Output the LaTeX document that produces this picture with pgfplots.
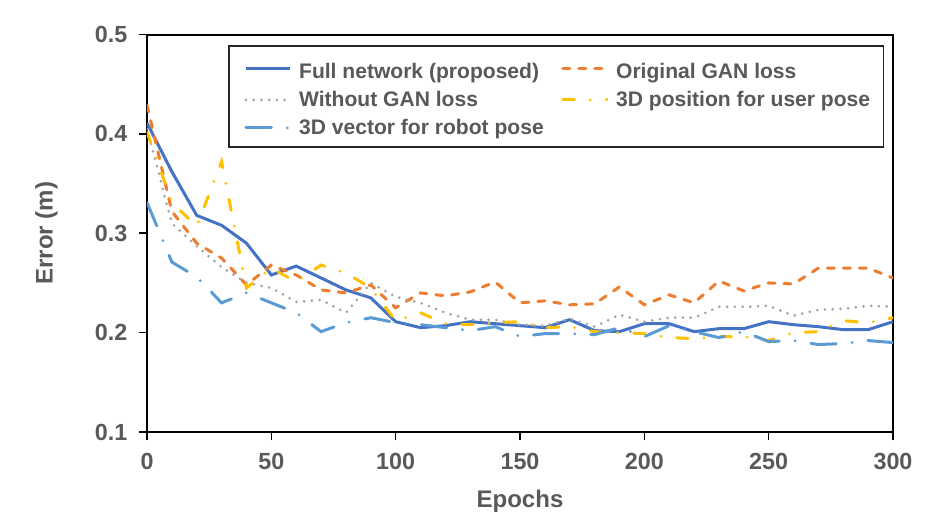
\documentclass[border=0pt]{standalone}
\usepackage{fontspec}
\setmainfont{Liberation Sans}
\usepackage{pgfplots}
\pgfplotsset{compat=1.18}
\definecolor{cBlue}{HTML}{4472C4}
\definecolor{cOrange}{HTML}{ED7D31}
\definecolor{cGray}{HTML}{A5A5A5}
\definecolor{cYellow}{HTML}{FFC000}
\definecolor{cLBlue}{HTML}{5B9BD5}
\definecolor{tgray}{HTML}{595959}
\begin{document}
\begin{tikzpicture}
\path[use as bounding box] (-110.25pt,-69.75pt) rectangle (593.25pt,324pt);
\begin{axis}[
  scale only axis, width=559.5pt, height=298.1pt,
  xmin=0, xmax=300, ymin=0.1, ymax=0.5,
  xtick={0,50,...,300}, ytick={0.1,0.2,0.3,0.4,0.5},
  axis line style={line width=1.5pt, black},
  tick style={line width=1.2pt, black}, major tick length=6pt, tick align=outside,
  xtick pos=bottom, ytick pos=left,
  /pgf/number format/assume math mode=true,
  ticklabel style={font=\fontsize{17.5}{20}\selectfont\bfseries, text=tgray},
  yticklabel style={/pgf/number format/.cd, fixed, fixed zerofill, precision=1, /tikz/.cd, xshift=-5.25pt},
  xticklabel style={yshift=-6pt},
  xlabel={Epochs}, ylabel={Error (m)},
  label style={font=\fontsize{18}{21}\selectfont\bfseries, text=tgray},
  xlabel style={at={(axis description cs:0.5,-0.1736)}, anchor=center},
  ylabel style={at={(axis description cs:-0.1347,0.5)}, anchor=center},
  legend columns=2,
  legend cell align=left,
  legend image code/.code={\path (0pt,0pt) (40.5pt,0pt); \draw[#1] (3.75pt,0pt) -- (36.75pt,0pt);},
  legend style={at={(0.1086,0.9736)}, anchor=north west, draw=black!85, line width=1.2pt,
    font=\fontsize{15.8}{18}\selectfont\bfseries, text=tgray,
    inner xsep=8pt, inner ysep=6pt, row sep=4.1pt},
]
\addplot[cBlue, line width=2.25pt] coordinates {
(0,0.411) (10,0.362) (20,0.318) (30,0.308) (40,0.290) (50,0.258) (60,0.267) (70,0.255) (80,0.243) (90,0.235)
(100,0.211) (110,0.205) (120,0.207) (130,0.211) (140,0.209) (150,0.207) (160,0.205) (170,0.213) (180,0.202) (190,0.201)
(200,0.209) (210,0.209) (220,0.201) (230,0.204) (240,0.204) (250,0.211) (260,0.208) (270,0.206) (280,0.203) (290,0.203) (300,0.211)};
\addlegendentry{\makebox[191pt][l]{\rule{0pt}{16.5pt}Full network (proposed)}}
\addplot[cOrange, line width=2.25pt, line cap=round, dash pattern=on 5.25pt off 6.75pt] coordinates {
(0,0.429) (10,0.322) (20,0.290) (30,0.275) (40,0.248) (50,0.268) (60,0.258) (70,0.243) (80,0.240) (90,0.248)
(100,0.225) (110,0.240) (120,0.237) (130,0.241) (140,0.251) (150,0.230) (160,0.232) (170,0.228) (180,0.229) (190,0.246)
(200,0.228) (210,0.238) (220,0.230) (230,0.252) (240,0.242) (250,0.250) (260,0.249) (270,0.265) (280,0.265) (290,0.265) (300,0.255)};
\addlegendentry{\rule{0pt}{16.5pt}Original GAN loss}
\addplot[cGray, line width=2.25pt, line cap=round, dash pattern=on 0pt off 5.8pt] coordinates {
(0,0.405) (10,0.310) (20,0.287) (30,0.266) (40,0.250) (50,0.245) (60,0.231) (70,0.233) (80,0.220) (90,0.250)
(100,0.236) (110,0.230) (120,0.220) (130,0.213) (140,0.213) (150,0.208) (160,0.207) (170,0.214) (180,0.206) (190,0.218)
(200,0.211) (210,0.215) (220,0.215) (230,0.226) (240,0.226) (250,0.227) (260,0.217) (270,0.223) (280,0.224) (290,0.227) (300,0.226)};
\addlegendentry{\makebox[191pt][l]{Without GAN loss}}
\addplot[cYellow, line width=2.25pt, line cap=round, dash pattern=on 8.5pt off 12pt on 0pt off 12pt] coordinates {
(0,0.402) (10,0.331) (20,0.307) (30,0.372) (40,0.245) (50,0.265) (60,0.251) (70,0.268) (80,0.260) (90,0.245)
(100,0.212) (110,0.220) (120,0.209) (130,0.208) (140,0.210) (150,0.211) (160,0.205) (170,0.206) (180,0.201) (190,0.200)
(200,0.199) (210,0.195) (220,0.194) (230,0.196) (240,0.196) (250,0.192) (260,0.200) (270,0.201) (280,0.212) (290,0.210) (300,0.215)};
\addlegendentry{3D position for user pose}
\addplot[cLBlue, line width=2.25pt, line cap=round, dash pattern=on 19pt off 12pt on 0pt off 12pt] coordinates {
(0,0.331) (10,0.271) (20,0.256) (30,0.230) (40,0.240) (50,0.230) (60,0.220) (70,0.201) (80,0.210) (90,0.215)
(100,0.210) (110,0.208) (120,0.205) (130,0.202) (140,0.206) (150,0.196) (160,0.199) (170,0.199) (180,0.198) (190,0.205)
(200,0.196) (210,0.207) (220,0.201) (230,0.195) (240,0.201) (250,0.191) (260,0.192) (270,0.188) (280,0.189) (290,0.192) (300,0.190)};
\addlegendentry{\makebox[191pt][l]{3D vector for robot pose}}
\end{axis}
\end{tikzpicture}
\end{document}
